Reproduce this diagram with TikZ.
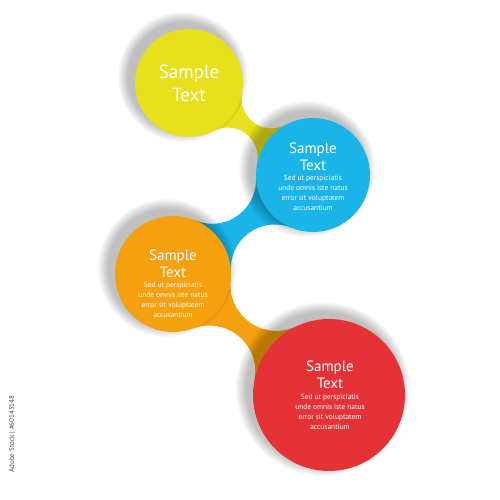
\documentclass[tikz,border=0pt]{standalone}
\usepackage{fontspec}
\setmainfont{PT Sans}
\usetikzlibrary{calc,intersections}
\definecolor{cyel}{HTML}{E8E01C}
\definecolor{cblu}{HTML}{1AB4E8}
\definecolor{cora}{HTML}{F5A00F}
\definecolor{cred}{HTML}{E53237}
% #1 centre A, #2 radius A, #3 centre B, #4 radius B, #5 cut-out radius, #6 colour
\newcommand\mkneck[6]{%
  \path[name path=nka] (#1) circle[radius=#2pt+#5pt];
  \path[name path=nkb] (#3) circle[radius=#4pt+#5pt];
  \path[name intersections={of=nka and nkb, name=X}];
  \fill[#6] let \p1=(X-1), \p2=($(#1)!#2pt!(X-1)$), \p3=($(#3)!#4pt!(X-1)$),
      \n1={atan2(\y2-\y1,\x2-\x1)}, \n2={atan2(\y3-\y1,\x3-\x1)},
      \n3={mod(\n2-\n1+540,360)-180},
      \p4=(X-2), \p5=($(#3)!#4pt!(X-2)$), \p6=($(#1)!#2pt!(X-2)$),
      \n4={atan2(\y5-\y4,\x5-\x4)}, \n5={atan2(\y6-\y4,\x6-\x4)},
      \n6={mod(\n5-\n4+540,360)-180} in
    (#1) -- (\p2) arc[start angle=\n1, delta angle=\n3, radius=#5pt]
    -- (#3) -- (\p5) arc[start angle=\n4, delta angle=\n6, radius=#5pt] -- cycle;}
% soft shadow up-left of a circle
\newcommand\softshadow[2]{%
  \foreach \k in {1,...,11}{\fill[black, opacity=0.022] ($(#1)+(-6pt,6pt)$) circle[radius=#2pt+12pt-\k pt];}}
\begin{document}
\begin{tikzpicture}[x=1pt,y=1pt,
  title/.style={text=white, align=center},
  body/.style={text=white, align=center, font=\fontsize{7.4}{10}\selectfont}]
\fill[white] (0,0) rectangle (500,500);
\useasboundingbox (0,0) rectangle (500,500);
\coordinate (Y) at (189,417);
\coordinate (B) at (313,325);
\coordinate (O) at (173,226);
\coordinate (R) at (329,105);
\mkneck{Y}{54}{B}{57}{30}{cyel}
\mkneck{B}{57}{O}{58}{44}{cblu}
\mkneck{O}{58}{R}{76}{46}{cora}
\softshadow{Y}{54}
\fill[cyel] (Y) circle[radius=54pt];
\softshadow{B}{57}
\fill[cblu] (B) circle[radius=57pt];
\softshadow{O}{58}
\fill[cora] (O) circle[radius=58pt];
\softshadow{R}{76}
\fill[cred] (R) circle[radius=76pt];
\node[title, font=\fontsize{19}{23}\selectfont] (ty) at (189,416.5) {Sample\\Text};
\node[title, font=\fontsize{15}{17}\selectfont] (tb) at (313,343.5) {Sample\\Text};
\node[body] (bb) at (313,307) {Sed ut perspiciatis\\unde omnis iste natus\\error sit voluptatem\\accusantium};
\node[title, font=\fontsize{15}{17}\selectfont] (to) at (173,236.5) {Sample\\Text};
\node[body] (bo) at (173,200) {Sed ut perspiciatis\\unde omnis iste natus\\error sit voluptatem\\accusantium};
\node[title, font=\fontsize{15}{17}\selectfont] (tr) at (330,125) {Sample\\Text};
\node[body] (br) at (330,88) {Sed ut perspiciatis\\unde omnis iste natus\\error sit voluptatem\\accusantium};
\node[rotate=90, text=black!70, font=\fontsize{7}{8}\selectfont] (wm) at (12,66) {Adobe Stock | \#60145148};
\end{tikzpicture}
\end{document}
